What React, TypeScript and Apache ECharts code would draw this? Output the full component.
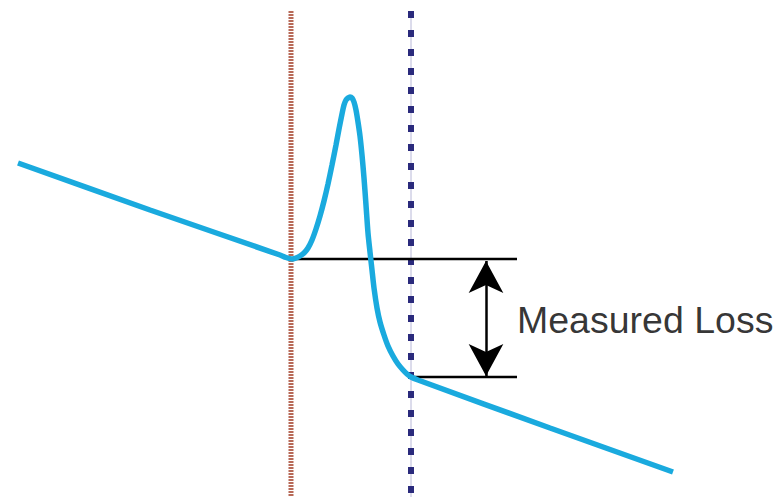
import React, { useEffect, useRef } from "react";
import * as echarts from "echarts";

// Trace (distance, level) — y measured downward (screen-like units)
const traceX = [18, 150, 280, 286, 292, 296, 300, 304, 308, 312, 316, 320, 324, 328, 332, 336, 339, 342, 344, 346, 348, 350, 352, 354, 356, 358, 360, 362, 364, 366, 368, 370, 372, 374, 377, 380, 384, 388, 393, 398, 403, 407, 411, 418, 550, 673];
const traceY = [163, 210, 255, 257.5, 259, 258, 256, 253, 248, 240, 229, 216, 201, 184, 165, 145, 129, 114, 105, 100, 98, 97, 98, 102, 110, 122, 136, 155, 178, 205, 233, 252, 270, 288, 308, 322, 335, 346, 356, 364, 370, 374, 377, 380, 428, 472];

const eventStartX = 291;
const eventEndX = 411;
const levelBefore = 259;
const levelAfter = 377;
const refLineEndX = 517;
const arrowX = 486;
const labelText = "Measured Loss";

export default function App() {
  const ref = useRef<HTMLDivElement>(null);
  useEffect(() => {
    if (!ref.current) return;
    const chart = echarts.init(ref.current, undefined, { renderer: "svg" });
    const trace = traceX.map((x, i) => [x, traceY[i]]);
    chart.setOption({
      animation: false,
      grid: { left: 0, right: 0, top: 0, bottom: 0 },
      xAxis: { type: "value", min: 0, max: 780, show: false },
      yAxis: { type: "value", min: 0, max: 497, inverse: true, show: false },
      series: [
        {
          type: "line",
          data: [[eventStartX, 11], [eventStartX, 497]],
          symbol: "none",
          lineStyle: { color: "#b86a58", width: 5, type: [2, 1] },
          z: 1,
        },
        {
          type: "line",
          data: [[eventEndX, 11], [eventEndX, 497]],
          symbol: "none",
          lineStyle: { color: "#b8b8d8", width: 1 },
          z: 1,
        },
        {
          type: "line",
          data: [[eventEndX, 11], [eventEndX, 497]],
          symbol: "none",
          lineStyle: { color: "#2a2a7c", width: 6, type: [7, 12] },
          z: 1,
        },
        {
          type: "line",
          data: [[eventStartX + 4, levelBefore], [refLineEndX, levelBefore]],
          symbol: "none",
          lineStyle: { color: "#000", width: 2.5 },
          z: 2,
        },
        {
          type: "line",
          data: [[eventEndX, levelAfter], [refLineEndX, levelAfter]],
          symbol: "none",
          lineStyle: { color: "#000", width: 2.5 },
          z: 2,
        },
        {
          type: "line",
          data: trace,
          symbol: "none",
          smooth: 0.25,
          lineStyle: { color: "#1aaade", width: 5.5 },
          z: 3,
        },
        {
          type: "scatter",
          data: [[refLineEndX, (levelBefore + levelAfter) / 2 + 2]],
          symbolSize: 0,
          label: {
            show: true,
            position: "right",
            distance: 0,
            formatter: labelText,
            fontFamily: "Liberation Sans, Arial, sans-serif",
            fontSize: 37.5,
            color: "#000",
          },
          markLine: {
            silent: true,
            symbol: ["arrow", "arrow"],
            symbolSize: [26, 32],
            label: { show: false },
            lineStyle: { color: "#000", width: 2.5, type: "solid" },
            data: [[{ coord: [arrowX, levelBefore + 2] }, { coord: [arrowX, levelAfter - 1] }]],
          },
          z: 4,
        },
      ],
    });
    return () => chart.dispose();
  }, []);
  return (
    <div
      ref={ref}
      style={{ position: "absolute", left: 0, top: 0, width: 780, height: 497, background: "#fff" }}
    />
  );
}
